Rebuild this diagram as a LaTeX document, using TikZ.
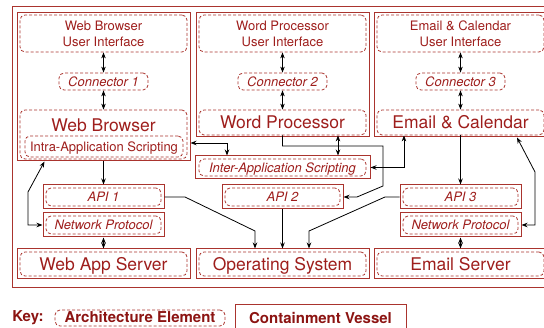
\documentclass[tikz,border=0pt]{standalone}
\usepackage{fontspec}
\setmainfont{TeX Gyre Heros}
\usetikzlibrary{arrows.meta}
\definecolor{vred}{RGB}{170,52,46}
\definecolor{tred}{RGB}{158,30,28}
\definecolor{kred}{RGB}{140,20,18}

\begin{document}
\begin{tikzpicture}[x=1pt,y=-1pt,>={Stealth[length=6pt,width=4.5pt]},
    vessel/.style={draw=vred,line width=1pt,inner sep=0pt},
    elem/.style={draw=vred,line width=0.8pt,dash pattern=on 3pt off 2pt,rounded corners=5pt,
                 text=tred,inner sep=0pt,text height=9.4pt,text depth=0pt,font=\fontsize{13}{16}\selectfont},
    ui/.style={elem,align=center,text height=25.4pt,minimum width=167pt,minimum height=37pt},
    conn/.style={elem,font=\fontsize{13}{16}\selectfont\itshape},
    big/.style={text=tred,text height=12.6pt,text depth=0pt,font=\fontsize{17.5}{20}\selectfont},
    keytext/.style={text=kred,font=\fontsize{15}{18}\selectfont\bfseries}]
    \useasboundingbox (0,0) rectangle (544,328);

    % the whole system
    \node[vessel,minimum width=536pt,minimum height=281pt] (sys) at (280,147.5) {};

    % the three applications
    \node[vessel,minimum width=173pt,minimum height=148pt] (wbv) at (103.5,87) {};
    \node[vessel,minimum width=173pt,minimum height=124pt] (wpv) at (282.5,75) {};
    \node[vessel,minimum width=173pt,minimum height=124pt] (ecv) at (460.5,75) {};

    \node[ui] (wbui) at (103.5,33.5) {Web Browser\\User Interface};
    \node[ui] (wpui) at (282.5,33.5) {Word Processor\\User Interface};
    \node[ui] (ecui) at (460.5,33.5) {Email \& Calendar\\User Interface};

    \node[conn,minimum width=89pt,minimum height=17pt] (con1) at (103.5,81.5) {Connector 1};
    \node[conn,minimum width=89pt,minimum height=17pt] (con2) at (282.5,81.5) {Connector 2};
    \node[conn,minimum width=89pt,minimum height=17pt] (con3) at (460.5,81.5) {Connector 3};

    \node[elem,minimum width=167pt,minimum height=49pt] (wb) at (103.5,134.5) {};
    \node[big] (wbname) at (103.5,125) {Web Browser};
    \node[elem,minimum width=158pt,minimum height=21pt] (intra) at (104,146.5) {Intra-Application Scripting};
    \node[elem,big,minimum width=167pt,minimum height=25pt] (wp) at (282.5,122.5) {Word Processor};
    \node[elem,big,minimum width=167pt,minimum height=25pt] (ec) at (460.5,122.5) {Email \& Calendar};

    % scripting, APIs and protocols
    \node[vessel,minimum width=175pt,minimum height=23pt] (iasv) at (282.5,167.5) {};
    \node[conn,minimum width=167pt,minimum height=17pt] (ias) at (iasv) {Inter-Application Scripting};

    \node[vessel,minimum width=121pt,minimum height=24pt] (api1) at (103.5,197) {};
    \node[conn,minimum width=115pt,minimum height=18pt] (api1e) at (api1) {API 1};
    \node[vessel,minimum width=121pt,minimum height=24pt] (api2) at (282.5,197) {};
    \node[conn,minimum width=115pt,minimum height=18pt] (api2e) at (api2) {API 2};
    \node[vessel,minimum width=121pt,minimum height=24pt] (api3) at (460.5,197) {};
    \node[conn,minimum width=115pt,minimum height=18pt] (api3e) at (api3) {API 3};

    \node[vessel,minimum width=121pt,minimum height=24pt] (npl) at (103.5,225) {};
    \node[conn,minimum width=115pt,minimum height=18pt] (nple) at (npl) {Network Protocol};
    \node[vessel,minimum width=121pt,minimum height=24pt] (npr) at (460.5,225) {};
    \node[conn,minimum width=115pt,minimum height=18pt] (npre) at (npr) {Network Protocol};

    % servers and OS
    \node[vessel,minimum width=173pt,minimum height=30pt] (wasv) at (103.5,264) {};
    \node[elem,big,minimum width=167pt,minimum height=24pt] (was) at (wasv) {Web App Server};
    \node[vessel,minimum width=173pt,minimum height=30pt] (osv) at (282.5,264) {};
    \node[elem,big,minimum width=167pt,minimum height=24pt] (os) at (osv) {Operating System};
    \node[vessel,minimum width=173pt,minimum height=30pt] (esv) at (460.5,264) {};
    \node[elem,big,minimum width=167pt,minimum height=24pt] (es) at (esv) {Email Server};

    % key
    \node[keytext] (key) at (28,318) {Key:};
    \node[elem,keytext,minimum width=170pt,minimum height=16pt] (keyel) at (140,318) {Architecture Element};
    \node[vessel,keytext,minimum width=171pt,minimum height=27pt] (keyvs) at (320.5,318.5) {Containment Vessel};

    % connectors
    \begin{scope}[line width=0.8pt]
        \draw[<->] (wbui.south) -- (con1.north);
        \draw[<->] (con1.south) -- (wb.north);
        \draw[<->] (wpui.south) -- (con2.north);
        \draw[<->] (con2.south) -- (wp.north);
        \draw[<->] (ecui.south) -- (con3.north);
        \draw[<->] (con3.south) -- (ec.north);

        \draw[->] (wbv.south) -- (api1.north);
        \draw[<->] ([xshift=28pt]wbv.south west) -- (28,192) |- (npl.west);
        \draw[->] (api1.east) -- (185,197) -- (255,231) -- ([xshift=-27.5pt]osv.north);
        \draw[<->] (npl.south) -- (wasv.north);
        \draw[<->] (wbv.east |- 0,143) -| ([xshift=-55.5pt]iasv.north);

        \draw[->] (wp.south) |- (383,146) -- (383,186) -- (357,197) -- (api2.east);
        \draw[<->] ([xshift=55.5pt]wp.south) -- ([xshift=55.5pt]iasv.north);
        \draw[->] (api2.south) -- (osv.north);

        \draw[<->] (iasv.east) -| ([xshift=-56.5pt]ec.south);
        \draw[->] (ec.south) -- (api3.north);
        \draw[<->] ([xshift=56.5pt]ecv.south) -- (535,172) |- (npr.east);
        \draw[->] (api3.west) -- (385,197) -- (309,231) -- ([xshift=26.5pt]osv.north);
        \draw[<->] (npr.south) -- (esv.north);
    \end{scope}
\end{tikzpicture}
\end{document}
